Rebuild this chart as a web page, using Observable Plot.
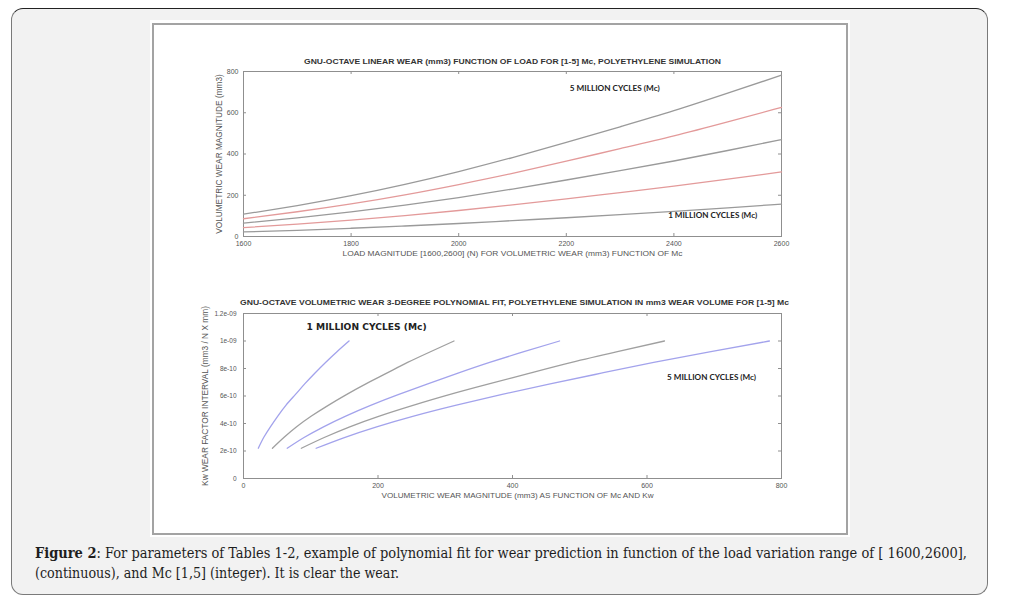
<!DOCTYPE html>
<html>
<head>
<meta charset="utf-8">
<script src="https://cdn.jsdelivr.net/npm/d3@7"></script>
<script src="https://cdn.jsdelivr.net/npm/@observablehq/plot@0.6"></script>
<style>
  html, body { margin: 0; padding: 0; background: #ffffff; }
  #page { position: relative; width: 1022px; height: 602px; overflow: hidden; }
  #outer { position: absolute; left: 11px; top: 8px; width: 977px; height: 587px; box-sizing: border-box;
           background: #f2f2f2; border: 1.5px solid #7a7a7a; border-top-color: #222; border-radius: 12px; }
  #panelWhite { position: absolute; left: 150px; top: 20px; width: 700px; height: 517px; background: #fff; }
  #panel { position: absolute; left: 152px; top: 23px; width: 696px; height: 512px; box-sizing: border-box;
           border: 2.5px solid #a3a3a3; background: #fff; }
  .chart { position: absolute; left: 160px; }
  .cap { position: absolute; left: 35px; white-space: nowrap; font-family: "DejaVu Serif Condensed", "DejaVu Serif", serif;
         font-stretch: condensed; font-size: 14.5px; line-height: 18px; color: #1e1e1e; transform-origin: 0 0; }
</style>
</head>
<body>
<div id="page">
  <div id="outer"></div>
  <div id="panelWhite"></div>
  <div id="panel"></div>
  <div id="top" class="chart" style="top:40px"></div>
  <div id="bottom" class="chart" style="top:282px"></div>
  <div id="cap1" class="cap" style="top:544px"><b>Figure 2</b>: For parameters of Tables 1-2, example of polynomial fit for wear prediction in function of the load variation range of [ 1600,2600],</div>
  <div id="cap2" class="cap" style="top:564px">(continuous), and Mc [1,5] (integer). It is clear the wear.</div>
</div>
<script>
// ---------------- data ----------------
const seriesNames = ["1 Mc", "2 Mc", "3 Mc", "4 Mc", "5 Mc"];
const loads = [1600, 1700, 1800, 1900, 2000, 2100, 2200, 2300, 2400, 2500, 2600];
const wear1Mc = [22, 30, 40, 51, 63, 77, 91, 106, 122, 139, 157];
const wear2Mc = [43, 60, 79, 101, 126, 153, 182, 213, 244, 278, 313];
const wear3Mc = [65, 90, 119, 152, 189, 230, 274, 319, 366, 417, 470];
const wear4Mc = [86, 120, 158, 202, 252, 306, 365, 426, 488, 556, 626];
const wear5Mc = [108, 150, 198, 253, 315, 383, 456, 532, 610, 695, 782];
const kwFactor = [2.20e-10, 2.98e-10, 3.76e-10, 4.54e-10, 5.32e-10, 6.10e-10, 6.88e-10, 7.66e-10, 8.44e-10, 9.22e-10, 1.0e-9];

const topXTicks = [1600, 1800, 2000, 2200, 2400, 2600];
const topYTicks = [0, 200, 400, 600, 800];
const botXTicks = [0, 200, 400, 600, 800];
const botYTicks = [0, 2e-10, 4e-10, 6e-10, 8e-10, 1e-9, 1.2e-9];
const botYTickLabels = ["0", "2e-10", "4e-10", "6e-10", "8e-10", "1e-09", "1.2e-09"];

const topTitle = "GNU-OCTAVE LINEAR WEAR (mm3) FUNCTION OF LOAD FOR [1-5] Mc, POLYETHYLENE SIMULATION";
const topXLabel = "LOAD MAGNITUDE [1600,2600] (N) FOR VOLUMETRIC WEAR (mm3) FUNCTION OF Mc";
const topYLabel = "VOLUMETRIC WEAR MAGNITUDE (mm3)";
const botTitle = "GNU-OCTAVE VOLUMETRIC WEAR 3-DEGREE POLYNOMIAL FIT, POLYETHYLENE SIMULATION IN mm3 WEAR VOLUME FOR [1-5] Mc";
const botXLabel = "VOLUMETRIC WEAR MAGNITUDE (mm3) AS FUNCTION OF Mc AND Kw";
const botYLabel = "Kw WEAR FACTOR INTERVAL (mm3 / N X mm)";
const label5 = "5 MILLION CYCLES (Mc)";
const label1 = "1 MILLION CYCLES (Mc)";

const topColors = ["#9a9a9a", "#e39a9a", "#9a9a9a", "#e39a9a", "#9a9a9a"];
const botColors = ["#a3a3ec", "#a0a0a0", "#a3a3ec", "#a0a0a0", "#a3a3ec"];

// ---------------- build rows ----------------
const wearSeries = [wear1Mc, wear2Mc, wear3Mc, wear4Mc, wear5Mc];
const rows = [];
seriesNames.forEach((s, i) => loads.forEach((L, j) => rows.push({series: s, load: L, wear: wearSeries[i][j], kw: kwFactor[j]})));

const W = 680, H = 232, ML = 83, MR = 59, MT = 31, MB = 36;
const FW = W - ML - MR, FH = H - MT - MB;
const axisGray = "#8f8f8f";
const textGray = "#555";

function frameTicks(xt, yt) {
  return [
    Plot.tickX(xt, {x: d => d, insetTop: FH - 3, stroke: axisGray}),
    Plot.tickX(xt, {x: d => d, insetBottom: FH - 3, stroke: axisGray}),
    Plot.tickY(yt, {y: d => d, insetRight: FW - 3, stroke: axisGray}),
    Plot.tickY(yt, {y: d => d, insetLeft: FW - 3, stroke: axisGray}),
    Plot.frame({stroke: axisGray, strokeWidth: 1})
  ];
}

const topPlot = Plot.plot({
  width: W, height: H, marginLeft: ML, marginRight: MR, marginTop: MT, marginBottom: MB,
  style: {fontFamily: "Liberation Sans, Arial, sans-serif", background: "transparent", overflow: "visible"},
  x: {domain: [1600, 2600]},
  y: {domain: [0, 800]},
  color: {domain: seriesNames, range: topColors},
  marks: [
    ...frameTicks(topXTicks, topYTicks),
    Plot.axisX(topXTicks, {tickSize: 0, tickPadding: 5, fontSize: 7, fill: textGray, label: null, tickFormat: d => String(d)}),
    Plot.axisY(topYTicks, {tickSize: 0, tickPadding: 5, fontSize: 7, fill: textGray, label: null, tickFormat: d => String(d)}),
    Plot.line(rows, {x: "load", y: "wear", z: "series", stroke: "series", curve: "natural", strokeWidth: 1.3}),
    Plot.text([topTitle], {text: d => d, frameAnchor: "top", dy: -13, fontSize: 7.5, fontWeight: "bold", fill: "#333"}),
    Plot.text([topXLabel], {text: d => d, frameAnchor: "bottom", dy: 19, fontSize: 8, fill: textGray}),
    Plot.text([topYLabel], {text: d => d, frameAnchor: "left", textAnchor: "middle", dx: -24, rotate: -90, fontSize: 8, fill: textGray}),
    Plot.text([label5], {text: d => d, x: () => 2290, y: () => 719, fontSize: 7.5, fontWeight: "bold", fontFamily: "Lato", fill: "#222"}),
    Plot.text([label1], {text: d => d, x: () => 2472, y: () => 102, fontSize: 7.5, fontWeight: "bold", fontFamily: "Lato", fill: "#222"})
  ]
});
document.getElementById("top").append(topPlot);

const botPlot = Plot.plot({
  width: W, height: H, marginLeft: ML, marginRight: MR, marginTop: MT, marginBottom: MB,
  style: {fontFamily: "Liberation Sans, Arial, sans-serif", background: "transparent", overflow: "visible"},
  x: {domain: [0, 800]},
  y: {domain: [0, 1.2e-9]},
  color: {domain: seriesNames, range: botColors},
  marks: [
    ...frameTicks(botXTicks, botYTicks),
    Plot.axisX(botXTicks, {tickSize: 0, tickPadding: 5, fontSize: 7, fill: textGray, label: null, tickFormat: d => String(d)}),
    Plot.axisY(botYTicks, {tickSize: 0, tickPadding: 7, fontSize: 6.5, fill: textGray, label: null,
      tickFormat: d => botYTickLabels[botYTicks.indexOf(d)]}),
    Plot.line(rows, {x: "wear", y: "kw", z: "series", stroke: "series", curve: "natural", strokeWidth: 1.3}),
    Plot.text([botTitle], {text: d => d, frameAnchor: "top", dy: -14, dx: 2, fontSize: 7.5, fontWeight: "bold", fill: "#333"}),
    Plot.text([botXLabel], {text: d => d, frameAnchor: "bottom", dy: 19, dx: 5, fontSize: 8, fill: textGray}),
    Plot.text([botYLabel], {text: d => d, frameAnchor: "left", textAnchor: "middle", dx: -38, rotate: -90, fontSize: 8, fill: textGray}),
    Plot.text([label1], {text: d => d, x: () => 183, y: () => 1.1e-9, fontSize: 9, fontWeight: "bold", fontFamily: "DejaVu Sans", fill: "#222"}),
    Plot.text([label5], {text: d => d, x: () => 696, y: () => 7.35e-10, fontSize: 7.5, fontWeight: "bold", fontFamily: "Lato", fill: "#222"})
  ]
});
document.getElementById("bottom").append(botPlot);

// fit horizontal texts to the reference widths (textLength)
function fitTexts(svg, widths) {
  d3.select(svg).selectAll("text").each(function () {
    const t = this.textContent;
    if (widths[t] !== undefined) {
      d3.select(this).attr("textLength", widths[t]).attr("lengthAdjust", "spacingAndGlyphs");
    }
  });
}
// fit rotated texts by font size (keeps them centred)
function fitBySize(svg, widths) {
  d3.select(svg).selectAll("text").each(function () {
    const t = this.textContent;
    if (widths[t] !== undefined) {
      const len = this.getComputedTextLength();
      const fs = parseFloat(getComputedStyle(this).fontSize);
      if (len > 0) this.setAttribute("font-size", fs * widths[t] / len);
    }
  });
}
fitTexts(topPlot, {[topTitle]: 417, [topXLabel]: 340, [label5]: 90, [label1]: 89});
fitTexts(botPlot, {[botTitle]: 549, [botXLabel]: 272, [label1]: 120, [label5]: 89});
fitBySize(topPlot, {[topYLabel]: 160});
fitBySize(botPlot, {[botYLabel]: 180});

// caption lines scaled to reference widths
function fitLine(id, target) {
  const el = document.getElementById(id);
  const w = el.getBoundingClientRect().width;
  el.style.transform = `scaleX(${target / w})`;
}
fitLine("cap1", 932);
fitLine("cap2", 364);
</script>
</body>
</html>
